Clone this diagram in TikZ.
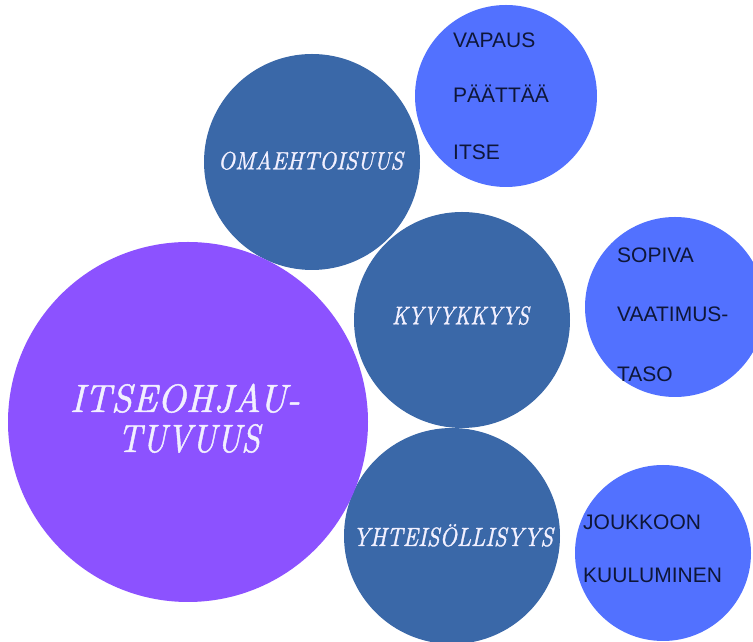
\documentclass[tikz,border=0pt]{standalone}
\usepackage{fontspec}
\usepackage{graphicx}
\newfontfamily\labelsans{Liberation Sans}
\newfontfamily\didone[FakeBold=1.2]{lmroman10-italic.otf}
\definecolor{mainpurple}{HTML}{8C52FF}
\definecolor{midblue}{HTML}{3A68A8}
\definecolor{lightblue}{HTML}{5271FF}
\definecolor{lighttext}{HTML}{F2F0FF}
\definecolor{darktext}{HTML}{0E1638}
\newcommand\fitw[2]{\resizebox{#1}{\height}{#2}}
\tikzset{
  bubble/.style={circle, inner sep=0pt, draw=none},
  mainbubble/.style={bubble, fill=mainpurple, minimum size=360pt},
  topicbubble/.style={bubble, fill=midblue, minimum size=216pt},
  detailbubble/.style={bubble, fill=lightblue},
  topictext/.style={anchor=base, inner sep=0pt, text=lighttext, font=\didone\fontsize{25.5}{30}\selectfont},
  maintext/.style={anchor=base, inner sep=0pt, text=lighttext, font=\didone\fontsize{39.5}{40}\selectfont},
  detailtext/.style={anchor=base west, inner sep=0pt, text=darktext, font=\labelsans\fontsize{21}{25}\selectfont}
}
\begin{document}
\begin{tikzpicture}[x=1pt,y=1pt]
\useasboundingbox (0,0) rectangle (753,642);
\clip (0,0) rectangle (753,642);
% detail bubbles
\node[detailbubble, minimum size=182pt] (vap) at (506,546) {};
\node[detailbubble, minimum size=180pt] (sop) at (675,335) {};
\node[detailbubble, minimum size=176pt] (jou) at (663,89) {};
% topic bubbles
\node[topicbubble] (oma) at (312,480) {};
\node[topicbubble] (kyv) at (462,322) {};
\node[topicbubble] (yht) at (452,106) {};
% main bubble
\node[mainbubble] (main) at (188,220) {};
% texts
\node[maintext] (m1) at (185,230) {\fitw{230pt}{ITSEOHJAU-}};
\node[maintext] (m2) at (189,190) {\fitw{142pt}{TUVUUS}};
\node[topictext, font=\didone\fontsize{25}{30}\selectfont] (t1) at (310.5,472.7) {\fitw{185pt}{OMAEHTOISUUS}};
\node[topictext] (t2) at (460.5,317.7) {\fitw{137pt}{KYVYKKYYS}};
\node[topictext, font=\didone\fontsize{26.4}{30}\selectfont] (t3) at (453,96) {\fitw{200pt}{YHTEISÖLLISYYS}};
\node[detailtext] (d1) at (453,594) {VAPAUS};
\node[detailtext] (d2) at (453,539) {PÄÄTTÄÄ};
\node[detailtext] (d3) at (453,482) {ITSE};
\node[detailtext] (d4) at (617,379) {SOPIVA};
\node[detailtext] (d5) at (617,320) {VAATIMUS-};
\node[detailtext] (d6) at (617,260) {TASO};
\node[detailtext] (d7) at (583,112) {JOUKKOON};
\node[detailtext] (d8) at (583,59) {KUULUMINEN};
\end{tikzpicture}
\end{document}
